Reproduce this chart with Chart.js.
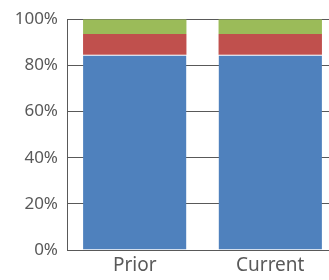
<!DOCTYPE html>
<html>
<head>
<meta charset="utf-8">
<script src="https://cdn.jsdelivr.net/npm/chart.js@4/dist/chart.umd.min.js"></script>
<style>
  html, body { margin: 0; padding: 0; background: #fff; overflow: hidden; }
  #wrap { width: 338px; height: 280px; }
</style>
</head>
<body>
<div id="wrap"><canvas id="chart"></canvas></div>
<script>
const categories = ["Prior", "Current"];
const blueValues = [84.6, 84.6];
const redValues = [9.0, 9.0];
const greenValues = [6.4, 6.4];
const yTicks = [0, 20, 40, 60, 80, 100];

const createChart = () => {
    const ctx = document.querySelector("canvas#chart");
    const textColor = "#595959";
    const lineColor = "#595959";

    new Chart(ctx, {
        type: "bar",
        data: {
            labels: categories,
            datasets: [
                {
                    data: blueValues,
                    backgroundColor: "#4F81BD",
                    borderColor: "#ffffff",
                    borderWidth: { top: 1, left: 0, right: 0, bottom: 0 },
                    borderSkipped: false
                },
                {
                    data: redValues,
                    backgroundColor: "#C0504D",
                    borderWidth: 0
                },
                {
                    data: greenValues,
                    backgroundColor: "#9BBB59",
                    borderWidth: 0
                }
            ]
        },
        options: {
            responsive: true,
            maintainAspectRatio: false,
            animation: false,
            layout: { padding: { top: 11, left: 0, right: 0, bottom: 0 } },
            plugins: {
                legend: { display: false },
                tooltip: { enabled: false }
            },
            datasets: {
                bar: { categoryPercentage: 1, barPercentage: 0.763 }
            },
            scales: {
                x: {
                    stacked: true,
                    afterFit: (axis) => { axis.height = 30; },
                    grid: { display: false, drawTicks: false },
                    border: { color: lineColor, width: 1 },
                    ticks: {
                        color: textColor,
                        padding: 4,
                        font: { family: "'Noto Sans', sans-serif", size: 19 }
                    }
                },
                y: {
                    stacked: true,
                    min: 0,
                    max: 100,
                    afterFit: (axis) => { axis.width = 67; },
                    afterBuildTicks: (axis) => {
                        axis.ticks = yTicks.map(v => ({ value: v }));
                    },
                    grid: { color: lineColor, drawTicks: false },
                    border: { color: lineColor, width: 1 },
                    ticks: {
                        color: textColor,
                        padding: 9,
                        font: { family: "'Noto Sans', sans-serif", size: 17 },
                        callback: (v) => v + "%"
                    }
                }
            }
        }
    });
};

createChart();
</script>
</body>
</html>
